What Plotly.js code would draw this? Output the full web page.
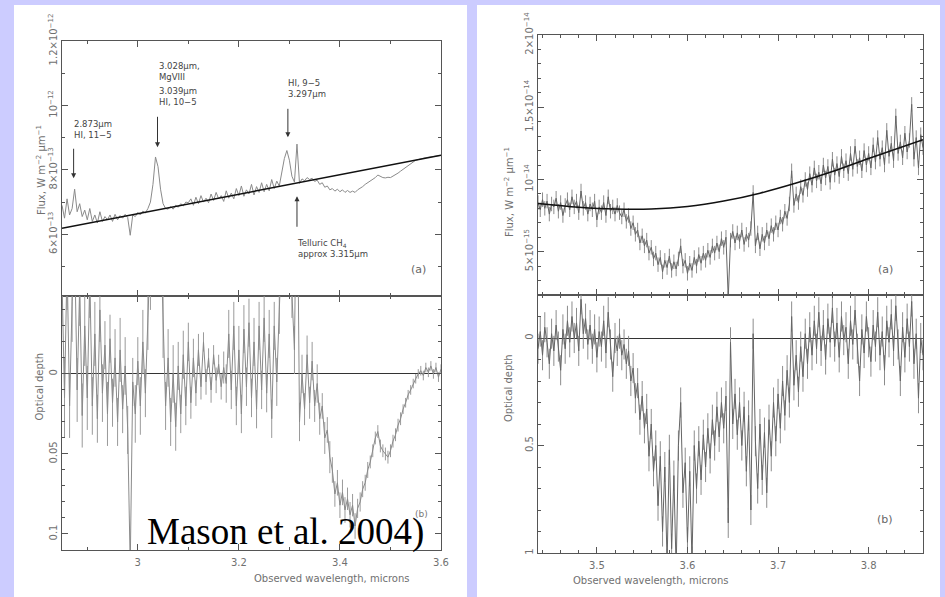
<!DOCTYPE html>
<html>
<head>
<meta charset="utf-8">
<script src="https://cdn.plot.ly/plotly-3.0.1.min.js"></script>
<style>
  html, body { margin: 0; padding: 0; background: #ccccff; }
  #chart { width: 945px; height: 597px; }
</style>
</head>
<body>
<div id="chart"></div>
<script>
// ---- Left source: 2.85-3.6 micron spectrum (flux in units of 1e-13 W m^-2 um^-1) ----
const leftStart = 2.85;
const leftStep = 0.005;
const leftFlux = [
  6.9, 6.5, 7.1, 6.6, 6.8, 7.4, 6.7, 6.95, 6.55, 6.75,
  6.45, 6.8, 6.4, 6.6, 6.35, 6.7, 6.4, 6.55, 6.45, 6.6,
  6.4, 6.62, 6.45, 6.58, 6.5, 6.62, 6.52, 5.97, 6.6, 6.55,
  6.68, 6.6, 6.72, 6.66, 6.8, 7.0, 7.55, 8.4, 8.1, 7.4,
  6.95, 6.8, 6.78, 6.86, 6.78, 6.9, 6.84, 6.95, 6.88, 7.0,
  6.98, 7.1, 6.9, 7.15, 6.95, 7.2, 7.0, 7.12, 6.98, 7.25,
  7.05, 7.3, 7.1, 7.2, 7.02, 7.35, 7.12, 7.28, 7.1, 7.42,
  7.2, 7.5, 7.18, 7.38, 7.25, 7.55, 7.22, 7.48, 7.3, 7.6,
  7.32, 7.55, 7.35, 7.7, 7.42, 7.65, 7.5, 7.9, 8.35, 8.6,
  8.3, 7.8, 7.62, 8.8, 7.58, 7.72, 7.66, 7.76, 7.7, 7.74,
  7.64, 7.68, 7.55, 7.6, 7.46, 7.5, 7.38, 7.42, 7.34, 7.4,
  7.32, 7.38, 7.3, 7.36, 7.3, 7.34, 7.3, 7.38, 7.42, 7.48,
  7.55, 7.6, 7.65, 7.7, 7.76, 7.84, 7.8, 7.76, 7.75, 7.77,
  7.76, 7.8, 7.84, 7.9, 7.96, 8.02, 8.08, 8.14, 8.2, 8.25,
  8.3, 8.32, 8.35, 8.36, 8.38, 8.39, 8.41, 8.42, 8.43, 8.44,
  8.45
];
const leftContX = [2.85, 3.6];
const leftContY = [6.19, 8.45];
const leftTau = [
  -0.06, 0.015, -0.07, 0.02, -0.045, -0.08, 0.01, -0.055, 0.026, -0.03,
  0.015, -0.06, 0.02, -0.025, 0.028, -0.04, 0.012, -0.018, 0.025, -0.022,
  0.018, -0.01, 0.03, -0.015, 0.022, -0.005, 0.035, 0.12, 0.005, 0.025,
  -0.008, 0.02, -0.02, 0.012, -0.035, -0.06, -0.12, -0.2, -0.18, -0.09,
  -0.03, 0.02, -0.01, 0.03, 0.0, 0.033, -0.005, 0.025, -0.012, 0.02,
  -0.02, 0.018, -0.01, 0.012, -0.015, 0.008, -0.02, 0.005, -0.01, 0.01,
  -0.012, 0.004, -0.006, 0.008, -0.004, 0.006, -0.025, 0.01, -0.03, 0.02,
  -0.015, 0.025, -0.028, 0.008, -0.032, 0.015, -0.02, 0.022, -0.03, 0.01,
  -0.035, 0.012, -0.025, 0.028, -0.03, 0.005, -0.04, -0.07, -0.13, -0.16,
  -0.12, -0.05, -0.015, -0.15, 0.03, 0.0, 0.022, -0.012, 0.018, -0.008,
  0.02, 0.006, 0.028, 0.02, 0.04, 0.035, 0.052, 0.06, 0.075, 0.068,
  0.082, 0.074, 0.085, 0.078, 0.088, 0.082, 0.095, 0.084, 0.08, 0.072,
  0.068, 0.06, 0.055, 0.048, 0.04, 0.036, 0.045, 0.048, 0.05, 0.052,
  0.048, 0.042, 0.038, 0.032, 0.028, 0.022, 0.018, 0.013, 0.01, 0.006,
  0.003, 0.0, -0.002, 0.001, -0.004, -0.001, -0.005, 0.0, -0.004, 0.002,
  -0.003
];
const leftTauErr = [
  0.03, 0.025, 0.03, 0.02, 0.025, 0.03, 0.02, 0.025, 0.02, 0.025,
  0.02, 0.025, 0.018, 0.02, 0.015, 0.02, 0.018, 0.015, 0.02, 0.015,
  0.015, 0.018, 0.015, 0.02, 0.015, 0.018, 0.015, 0.01, 0.015, 0.018,
  0.015, 0.018, 0.02, 0.015, 0.02, 0.02, 0.02, 0.02, 0.02, 0.02,
  0.02, 0.015, 0.018, 0.015, 0.018, 0.015, 0.015, 0.012, 0.015, 0.012,
  0.012, 0.01, 0.012, 0.008, 0.01, 0.008, 0.006, 0.008, 0.006, 0.008,
  0.006, 0.008, 0.006, 0.008, 0.01, 0.012, 0.015, 0.012, 0.015, 0.012,
  0.015, 0.012, 0.015, 0.012, 0.015, 0.012, 0.015, 0.012, 0.015, 0.012,
  0.015, 0.012, 0.015, 0.012, 0.015, 0.015, 0.015, 0.015, 0.015, 0.015,
  0.015, 0.015, 0.015, 0.015, 0.012, 0.012, 0.01, 0.012, 0.01, 0.012,
  0.01, 0.012, 0.01, 0.008, 0.01, 0.008, 0.01, 0.008, 0.008, 0.008,
  0.008, 0.008, 0.008, 0.007, 0.008, 0.007, 0.008, 0.006, 0.006, 0.005,
  0.005, 0.005, 0.004, 0.004, 0.004, 0.004, 0.004, 0.004, 0.004, 0.004,
  0.004, 0.004, 0.004, 0.004, 0.004, 0.003, 0.003, 0.003, 0.003, 0.003,
  0.003, 0.003, 0.003, 0.003, 0.003, 0.003, 0.003, 0.003, 0.003, 0.003,
  0.003
];
const leftFluxTicks = [6, 8, 10, 12];
const leftFluxTickText = ['6×10<sup>−13</sup>', '8×10<sup>−13</sup>', '10<sup>−12</sup>', '1.2×10<sup>−12</sup>'];
const leftTauTicks = [0, 0.05, 0.1];
const leftTauTickText = ['0', '0.05', '0.1'];

// ---- Right source: 3.435-3.86 micron spectrum (flux in units of 1e-15 W m^-2 um^-1) ----
const rightStart = 3.435;
const rightStep = 0.0025;
const rightFlux = [
  8.4, 7.9, 8.6, 8.0, 8.5, 7.6, 8.3, 8.1, 8.7, 7.8,
  8.4, 7.5, 8.2, 8.6, 7.9, 8.8, 8.1, 8.5, 7.7, 9.2,
  8.0, 8.4, 7.6, 8.3, 7.9, 8.5, 7.2, 8.1, 7.7, 8.4,
  7.5, 8.8, 7.8, 8.1, 7.6, 8.2, 7.7, 7.4, 7.9, 7.1,
  7.5, 6.6, 7.0, 6.2, 6.5, 5.6, 6.1, 5.4, 5.8, 4.9,
  5.3, 4.5, 4.9, 4.1, 4.6, 3.6, 4.4, 3.9, 4.7, 3.7,
  4.3, 3.8, 4.5, 5.4, 4.0, 4.4, 3.5, 4.2, 3.7, 4.6,
  4.0, 4.8, 4.2, 4.9, 4.4, 5.1, 4.6, 5.4, 4.9, 5.6,
  5.0, 5.9, 5.3, 6.0, 1.8, 5.8, 6.4, 5.6, 6.3, 5.7,
  6.5, 5.5, 6.2, 5.8, 6.6, 9.1, 5.4, 6.3, 5.2, 6.2,
  5.6, 6.5, 5.9, 6.8, 6.2, 7.0, 6.5, 7.4, 6.9, 7.8,
  7.3, 8.3, 10.6, 8.2, 9.0, 8.4, 9.5, 8.9, 10.0, 9.3,
  10.4, 9.6, 10.8, 9.9, 10.5, 9.7, 11.0, 10.1, 10.9, 9.8,
  11.4, 10.3, 11.1, 10.2, 11.6, 10.6, 11.3, 10.4, 11.8, 10.7,
  12.3, 10.9, 11.5, 10.6, 12.0, 11.0, 11.8, 10.8, 12.4, 11.2,
  12.9, 11.4, 12.2, 11.0, 13.4, 11.6, 12.5, 11.3, 14.4, 11.8,
  12.6, 11.5, 13.2, 11.9, 12.7, 15.2, 11.4, 12.9, 10.8, 13.1,
  12.2
];
const rightFluxErr = 0.5;
const rightContX = [3.435, 3.48, 3.52, 3.56, 3.60, 3.64, 3.68, 3.72, 3.76, 3.80, 3.86];
const rightContY = [8.34, 8.08, 7.95, 7.95, 8.12, 8.5, 9.05, 9.75, 10.55, 11.45, 12.75];
const rightTau = [
  0.05, -0.03, 0.08, -0.05, 0.02, 0.12, -0.02, 0.06, -0.06, 0.04,
  0.15, -0.04, 0.05, -0.08, 0.02, -0.1, 0.0, -0.07, 0.06, -0.18,
  -0.02, -0.09, 0.03, -0.06, 0.05, -0.04, 0.09, -0.03, 0.04, -0.08,
  0.07, -0.12, 0.03, 0.18, 0.0, 0.06, -0.02, 0.08, 0.03, 0.12,
  0.06, 0.2, 0.14, 0.28, 0.21, 0.38, 0.27, 0.42, 0.33, 0.55,
  0.4, 0.62, 0.5, 0.78, 0.55, 0.9, 0.6, 1.05, 0.52, 0.98,
  0.64, 1.08, 0.5, 0.3, 0.72, 0.58, 0.95, 0.62, 1.04, 0.5,
  0.7, 0.48, 0.66, 0.45, 0.6, 0.42, 0.56, 0.38, 0.5, 0.32,
  0.46, 0.3, 0.42, 0.27, 0.86, 0.02, 0.4, 0.26, 0.45, 0.3,
  0.5, 0.32, 0.62, 0.36, 0.8, -0.02, 0.48, 0.7, 0.4, 0.66,
  0.44, 0.72, 0.38, 0.55, 0.3, 0.48, 0.26, 0.42, 0.2, 0.36,
  0.15, 0.3, -0.1, 0.22, 0.08, 0.25, 0.04, 0.18, -0.02, 0.12,
  -0.05, 0.08, -0.08, 0.05, -0.12, 0.06, -0.06, 0.1, -0.09, 0.02,
  -0.14, 0.04, -0.07, 0.09, -0.1, 0.01, -0.05, 0.12, -0.08, 0.03,
  -0.13, 0.05, 0.2, -0.04, 0.07, -0.1, 0.02, 0.11, -0.06, 0.04,
  -0.12, 0.08, -0.03, 0.15, -0.08, 0.02, -0.11, 0.06, -0.15, 0.03,
  0.2, -0.05, 0.09, -0.09, 0.04, -0.17, 0.12, -0.02, 0.28, 0.0,
  0.08
];
const rightTauErr = 0.07;
const rightFluxTicks = [5, 10, 15, 20];
const rightFluxTickText = ['5×10<sup>−15</sup>', '10<sup>−14</sup>', '1.5×10<sup>−14</sup>', '2×10<sup>−14</sup>'];
const rightTauTicks = [0, 0.5, 1];
const rightTauTickText = ['0', '0.5', '1'];

// ---- Page geometry helpers (pixel -> paper fraction) ----
const W = 945, H = 597;
const px = v => v / W;
const py = v => 1 - v / H;

const FONT = 'DejaVu Sans';
const LABEL_GREY = '#707070';
const FRAME = '#555555';

const axisBase = {
  showline: true, linecolor: FRAME, linewidth: 1, mirror: 'allticks',
  ticks: 'inside', ticklen: 6, tickwidth: 1, tickcolor: FRAME,
  showgrid: false, zeroline: false, fixedrange: true,
  tickfont: { family: FONT, size: 10, color: LABEL_GREY }
};
const minorTicks = d => ({ tickmode: 'linear', tick0: 0, dtick: d, ticks: 'inside', ticklen: 3, tickcolor: FRAME, showgrid: false });
const ax = o => Object.assign({}, axisBase, o);

const leftX = [px(62), px(441)];
const rightX = [px(538), px(923)];

const layout = {
  width: W, height: H,
  margin: { l: 0, r: 0, t: 0, b: 0 },
  paper_bgcolor: '#ccccff',
  plot_bgcolor: '#ffffff',
  showlegend: false,
  font: { family: FONT, color: LABEL_GREY },
  xaxis: ax({ domain: leftX, anchor: 'y', range: [leftStart, 3.6], tick0: 0, dtick: 0.2, minor: minorTicks(0.1), showticklabels: false }),
  yaxis: ax({ domain: [py(295.5), py(41)], anchor: 'x', range: [4.1, 12], tickmode: 'array', tickvals: leftFluxTicks, ticktext: leftFluxTickText, tickangle: -90, minor: minorTicks(1) }),
  xaxis2: ax({ domain: leftX, anchor: 'y2', range: [leftStart, 3.6], tick0: 0, dtick: 0.2, minor: minorTicks(0.1), ticklabelstandoff: 3 }),
  yaxis2: ax({ domain: [py(550), py(295.5)], anchor: 'x2', range: [0.11, -0.049], tickmode: 'array', tickvals: leftTauTicks, ticktext: leftTauTickText, tickangle: -90, minor: minorTicks(0.01), zeroline: true, zerolinecolor: '#333', zerolinewidth: 1 }),
  xaxis3: ax({ domain: rightX, anchor: 'y3', range: [rightStart, 3.86], tick0: 0, dtick: 0.1, minor: minorTicks(0.02), showticklabels: false }),
  yaxis3: ax({ domain: [py(295), py(35)], anchor: 'x3', range: [2, 20], tickmode: 'array', tickvals: rightFluxTicks, ticktext: rightFluxTickText, tickangle: -90, minor: minorTicks(1) }),
  xaxis4: ax({ domain: rightX, anchor: 'y4', range: [rightStart, 3.86], tick0: 0, dtick: 0.1, minor: minorTicks(0.02), ticklabelstandoff: 3 }),
  yaxis4: ax({ domain: [py(553), py(295)], anchor: 'x4', range: [1, -0.2], tickmode: 'array', tickvals: rightTauTicks, ticktext: rightTauTickText, tickangle: -90, minor: minorTicks(0.1), zeroline: true, zerolinecolor: '#333', zerolinewidth: 1 }),
  shapes: [
    { type: 'rect', xref: 'paper', yref: 'paper', x0: px(14), x1: px(467), y0: 0, y1: py(5), fillcolor: '#ffffff', line: { width: 0 }, layer: 'below' },
    { type: 'rect', xref: 'paper', yref: 'paper', x0: px(477), x1: px(940), y0: 0, y1: py(5), fillcolor: '#ffffff', line: { width: 0 }, layer: 'below' }
  ],
  annotations: []
};

const A = layout.annotations;
const titleFont = { family: FONT, size: 10, color: LABEL_GREY };
// axis titles
A.push({ xref: 'paper', yref: 'paper', x: px(33), y: py(123), text: 'Flux, W m<sup>−2</sup> μm<sup>−1</sup>', textangle: -90, showarrow: false, font: titleFont });
A.push({ xref: 'paper', yref: 'paper', x: px(31), y: py(423), text: 'Optical depth', textangle: -90, showarrow: false, font: titleFont });
A.push({ xref: 'paper', yref: 'paper', x: px(252), y: py(586), text: 'Observed wavelength, microns', showarrow: false, font: titleFont });
A.push({ xref: 'paper', yref: 'paper', x: px(509), y: py(145), text: 'Flux, W m<sup>−2</sup> μm<sup>−1</sup>', textangle: -90, showarrow: false, font: titleFont });
A.push({ xref: 'paper', yref: 'paper', x: px(508), y: py(424), text: 'Optical depth', textangle: -90, showarrow: false, font: titleFont });
A.push({ xref: 'paper', yref: 'paper', x: px(730), y: py(588), text: 'Observed wavelength, microns', showarrow: false, font: titleFont });

// line identifications on the left flux panel
const lineFont = { family: FONT, size: 8.5, color: '#444' };
const arrowStyle = { showarrow: true, arrowhead: 2, arrowsize: 1, arrowwidth: 1, arrowcolor: '#333', text: '', xref: 'x', yref: 'y', axref: 'pixel', ayref: 'pixel', ax: 0 };
A.push(Object.assign({}, arrowStyle, { x: 3.039, y: 8.70, ay: -32 }));
A.push(Object.assign({}, arrowStyle, { x: 2.873, y: 7.74, ay: -31 }));
A.push(Object.assign({}, arrowStyle, { x: 3.297, y: 9.01, ay: -30 }));
A.push(Object.assign({}, arrowStyle, { x: 3.315, y: 7.18, ay: 32 }));
const label = (x, y, t) => ({ xref: 'x', yref: 'y', x: x, y: y, text: t, showarrow: false, xanchor: 'left', align: 'left', font: lineFont });
A.push(label(3.0376, 11.05, '3.028μm,<br>MgVIII'));
A.push(label(3.0376, 10.29, '3.039μm<br>HI, 10−5'));
A.push(label(2.8698, 9.25, '2.873μm<br>HI, 11−5'));
A.push(label(3.2936, 10.54, 'HI, 9−5<br>3.297μm'));
A.push(label(3.3114, 5.55, 'Telluric CH<sub>4</sub><br>approx 3.315μm'));

// panel tags
const tagFont = { family: FONT, size: 11, color: '#666' };
A.push({ xref: 'paper', yref: 'paper', x: px(418), y: py(269), text: '(a)', showarrow: false, font: tagFont });
A.push({ xref: 'paper', yref: 'paper', x: px(421), y: py(521), text: '(b)', showarrow: false, font: { family: FONT, size: 9, color: '#777' } });
A.push({ xref: 'paper', yref: 'paper', x: px(895), y: py(269), text: '(a)', showarrow: false, font: tagFont });
A.push({ xref: 'paper', yref: 'paper', x: px(895), y: py(528), text: '(b)', showarrow: false, font: tagFont });

// citation
A.push({ xref: 'paper', yref: 'paper', x: px(145), y: py(532), xanchor: 'left', yanchor: 'middle', text: 'Mason et al. 2004)', showarrow: false, font: { family: 'Liberation Serif', size: 37, color: '#000' } });

const dataLine = c => ({ color: c, width: 1 });
const constErr = (v, c) => ({ type: 'constant', value: v, width: 0, thickness: 1, color: c });
const traces = [
  { type: 'scatter', mode: 'lines', x0: leftStart, dx: leftStep, y: leftFlux, xaxis: 'x', yaxis: 'y', line: dataLine('#8a8a8a') },
  { type: 'scatter', mode: 'lines', x: leftContX, y: leftContY, xaxis: 'x', yaxis: 'y', line: { color: '#111', width: 1.5 } },
  { type: 'scatter', mode: 'lines', x0: leftStart, dx: leftStep, y: leftTau, xaxis: 'x2', yaxis: 'y2', line: dataLine('#8a8a8a'), error_y: { type: 'data', array: leftTauErr, width: 0, thickness: 1, color: '#9a9a9a' } },
  { type: 'scatter', mode: 'lines', x0: rightStart, dx: rightStep, y: rightFlux, xaxis: 'x3', yaxis: 'y3', line: dataLine('#666666'), error_y: constErr(rightFluxErr, '#8c8c8c') },
  { type: 'scatter', mode: 'lines', x: rightContX, y: rightContY, xaxis: 'x3', yaxis: 'y3', line: { color: '#111', width: 1.5, shape: 'spline' } },
  { type: 'scatter', mode: 'lines', x0: rightStart, dx: rightStep, y: rightTau, xaxis: 'x4', yaxis: 'y4', line: dataLine('#666666'), error_y: constErr(rightTauErr, '#8c8c8c') }
];

Plotly.newPlot('chart', traces, layout, { displayModeBar: false, staticPlot: true });
</script>
</body>
</html>
